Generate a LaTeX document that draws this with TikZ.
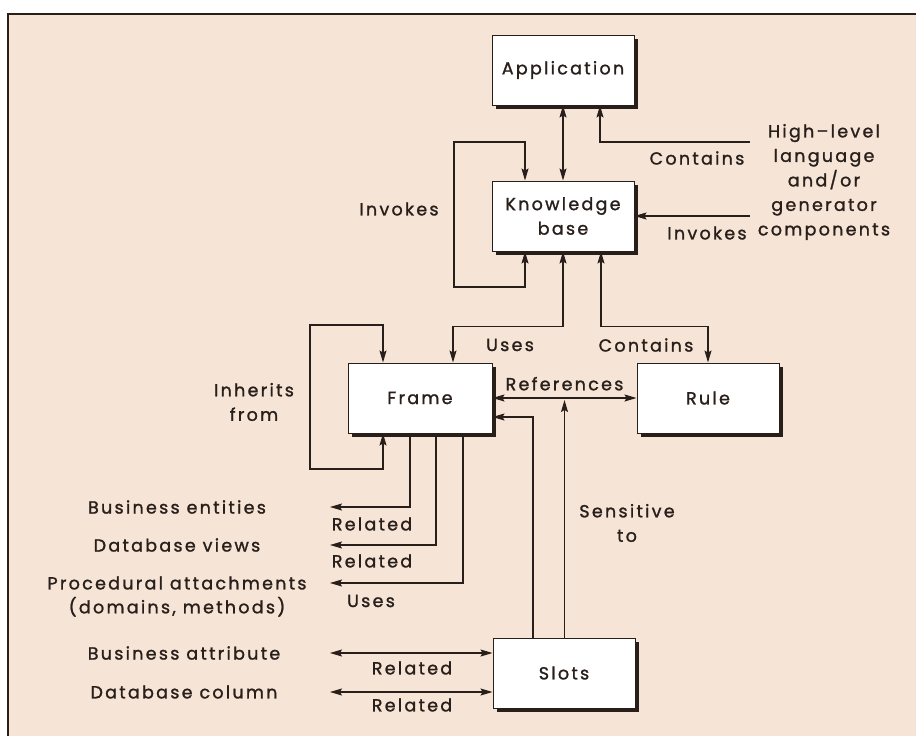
\documentclass[tikz,border=0pt]{standalone}
\usepackage{fontspec}
\setmainfont{Poppins}[LetterSpace=13, FakeBold=1.3]
\usetikzlibrary{arrows.meta, positioning, calc}

\definecolor{paper}{RGB}{246,229,215}
\definecolor{ink}{RGB}{40,31,27}

\begin{document}
\begin{tikzpicture}[
    x=1pt, y=-1pt,
    every node/.style={font=\fontsize{17.5}{24.5}\selectfont, text=ink},
    box/.style={rectangle, draw=ink, fill=white, line width=1pt,
                minimum width=142pt, minimum height=70pt, align=center,
                preaction={fill=ink, transform canvas={shift={(3.5pt,-3.5pt)}}}},
    lbl/.style={align=center, inner sep=0pt},
    arr/.style={-{Stealth[length=12pt, width=7pt, inset=2pt]}, line width=1.1pt, draw=ink},
    dblarr/.style={{Stealth[length=12pt, width=7pt, inset=2pt]}-{Stealth[length=12pt, width=7pt, inset=2pt]},
                   line width=1.1pt, draw=ink},
]

% sheet
\useasboundingbox (0,0) rectangle (916,736);
\fill[white] (0,0) rectangle (916,736);
\fill[paper] (8,14) rectangle (916,736);
\draw[ink, line width=1.6pt] (8,736) -- (8,14) -- (916,14);

% boxes
\node[box] (app) at (563,70) {Application};
\node[box, below=75pt of app] (kb) {Knowledge\\base};
\node[box, minimum width=144pt] (frame) at (420,398) {Frame};
\node[box, right=144pt of frame] (rule) {Rule};
\node[box] (slots) at (564,673) {Slots};

% outside texts
\node[lbl] (hl) at (824,182) {High–level\\language\\and/or\\generator\\components};
\node[lbl] (be) at (177,507) {Business entities};
\node[lbl] (dv) at (177,545) {Database views};
\node[lbl] (pa) at (177,583) {Procedural attachments};
\node[lbl, below=7pt of pa] (pa2) {(domains, methods)};
\node[lbl] (ba) at (184,653) {Business attribute};
\node[lbl] (dc) at (184,692) {Database column};

\coordinate (hlc) at (750,142);
\coordinate (hli) at (750,216);
\coordinate (kbtop) at (454,142);
\coordinate (kbbot) at (454,287);
\coordinate (inht) at (310,325);
\coordinate (inhb) at (310,469);
\coordinate (tipx) at (330,0);

% connectors
\draw[dblarr] (app) -- (kb);
\draw[arr] (hlc) -| ([xshift=37pt]app.south);
\draw[arr] (hli) -- (hli -| kb.east);
\draw[dblarr] ([xshift=-38pt]kb.north) |- (kbtop) -- (kbbot) -| ([xshift=-38pt]kb.south);
\draw[dblarr] (kb.south) -- ++(0,75) -| ([xshift=33pt]frame.north);
\draw[dblarr] ([xshift=38pt]kb.south) -- ++(0,75) -| (rule.north);
\draw[dblarr] ([xshift=-37pt]frame.north) |- (inht) -- (inhb) -| ([xshift=-37pt]frame.south);
\draw[dblarr] (frame) -- node[lbl, above=7pt] {References} coordinate[midway] (refmid) (rule);
\draw[arr, shorten >=2pt] (slots.north -| refmid) -- (refmid);
\draw[arr] ([xshift=-31pt]slots.north) |- ([yshift=-19pt]frame.east);
\draw[arr] ([xshift=-10pt]frame.south) |- (tipx |- be);
\draw[arr] ([xshift=16pt]frame.south) |- (tipx |- dv);
\draw[arr] ([xshift=43pt]frame.south) |- (tipx |- pa);
\draw[dblarr] (tipx |- ba) -- (slots.west |- ba);
\draw[dblarr] (tipx |- dc) -- (slots.west |- dc);

% connector labels
\node[lbl] at (697,158) {Contains};
\node[lbl] at (707,233) {Invokes};
\node[lbl] at (399,209) {Invokes};
\node[lbl] at (510,345) {Uses};
\node[lbl] at (646,345) {Contains};
\node[lbl] at (254,402) {Inherits\\from};
\node[lbl] at (627,523) {Sensitive\\to};
\node[lbl] at (372,524) {Related};
\node[lbl] at (372,561) {Related};
\node[lbl] at (371,601) {Uses};
\node[lbl] at (412,668) {Related};
\node[lbl] at (412,705) {Related};

\end{tikzpicture}
\end{document}
